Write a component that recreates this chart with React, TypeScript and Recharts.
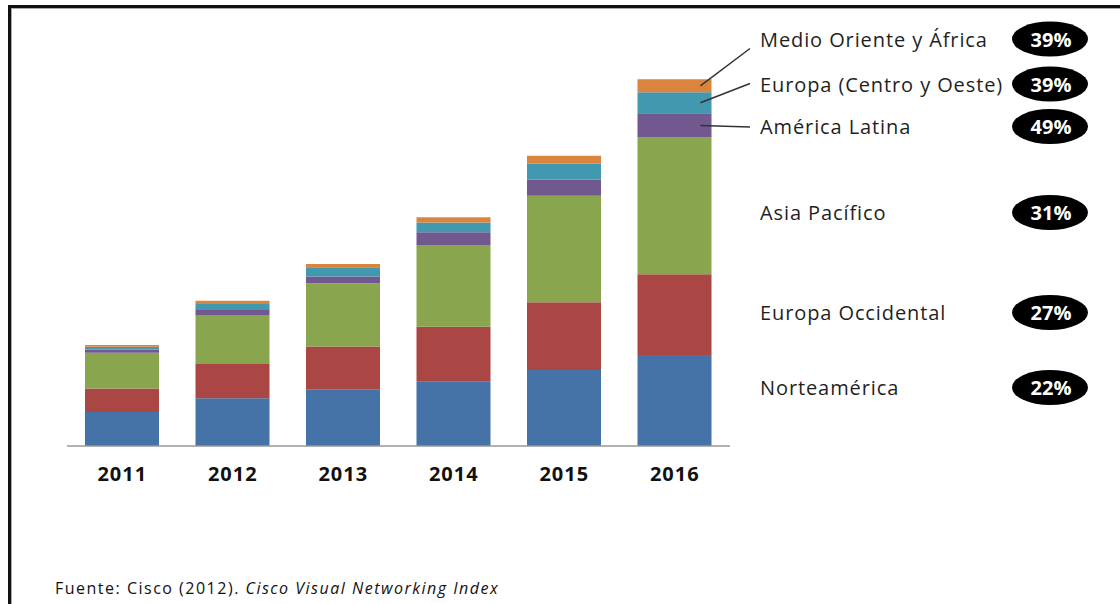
import { BarChart, Bar, XAxis, YAxis, LabelList } from 'recharts';

// Traffic per region (bottom to top)
const years = ['2011', '2012', '2013', '2014', '2015', '2016'];
const norteamerica = [34, 47.7, 56.7, 64.3, 76, 91];
const europaOccidental = [23.5, 34.3, 42.7, 55, 67.7, 80.7];
const asiaPacifico = [35.7, 49, 63.4, 81.7, 106.6, 136.7];
const americaLatina = [3.4, 5, 6.7, 12.7, 16.3, 24.3];
const europaCentro = [2.6, 6, 9.3, 9.7, 16, 21];
const medioOriente = [1.7, 3.3, 3.3, 5.3, 7.7, 13];

const seriesNames = [
  'Norteamérica',
  'Europa Occidental',
  'Asia Pacífico',
  'América Latina',
  'Europa (Centro y Oeste)',
  'Medio Oriente y África',
];
const growth = ['22%', '27%', '31%', '49%', '39%', '39%'];

const seriesValues = [norteamerica, europaOccidental, asiaPacifico, americaLatina, europaCentro, medioOriente];
const keys = ['na', 'eo', 'ap', 'al', 'ec', 'mo'];
const colors = ['#4572A7', '#AA4643', '#89A54E', '#71588F', '#4198AF', '#DB843D'];

// right-hand label placement (layout only)
const labelY = [387.5, 312.5, 212.5, 126.5, 84, 39];
const leaderY: (number | null)[] = [null, null, null, 127, 83.5, 48.5];

const data = years.map((year, i) => {
  const row: Record<string, any> = { year };
  keys.forEach((k, s) => { row[k] = seriesValues[s][i]; });
  return row;
});

function makeLabel(s: number) {
  return (props: any) => {
    if (props.index !== years.length - 1) return null;
    const x = Number(props.x);
    const y = Number(props.y);
    const w = Number(props.width);
    const h = Number(props.height);
    const ly = labelY[s];
    const lead = leaderY[s];
    return (
      <g>
        {lead != null && (
          <line x1={x + w * 0.85} y1={y + h / 2} x2={750} y2={lead} stroke="#333" strokeWidth={1.5} />
        )}
        <text x={760} y={ly} dominantBaseline="central" fontSize={20} letterSpacing={0.9} fill="#1f1f1f">
          {seriesNames[s]}
        </text>
        <ellipse cx={1050} cy={ly} rx={38} ry={17.5} fill="#000" />
        <text x={1051} y={ly} textAnchor="middle" dominantBaseline="central" fill="#fff" fontWeight={700} fontSize={20}>
          {growth[s]}
        </text>
      </g>
    );
  };
}

export default function App() {
  return (
    <div style={{ position: 'absolute', left: 0, top: 0, width: 1120, height: 604, background: '#fff', fontFamily: '"Open Sans", sans-serif', overflow: 'hidden' }}>
      <div style={{ position: 'absolute', left: 8, top: 5, width: 1110, height: 610, borderTop: '3px solid #111', borderLeft: '3px solid #111', boxShadow: 'inset 1px 1px 0 #aaa' }} />
      <BarChart width={1120} height={604} data={data} margin={{ top: 46, right: 390, left: 67, bottom: 118 }}>
        <XAxis
          dataKey="year"
          height={40}
          axisLine={{ stroke: '#999', strokeWidth: 1.5 }}
          tickLine={false}
          tickMargin={15}
          tick={{ fontSize: 20, fontWeight: 700, fill: '#111', letterSpacing: 1 }}
        />
        <YAxis hide domain={[0, 400]} />
        {keys.map((k, s) => (
          <Bar key={k} dataKey={k} stackId="a" fill={colors[s]} barSize={74} isAnimationActive={false}>
            <LabelList dataKey={k} content={makeLabel(s)} />
          </Bar>
        ))}
      </BarChart>
      <div style={{ position: 'absolute', left: 55, top: 577, fontSize: 16, letterSpacing: 1.5, color: '#111' }}>
        Fuente: Cisco (2012). <i>Cisco Visual Networking Index</i>
      </div>
    </div>
  );
}
